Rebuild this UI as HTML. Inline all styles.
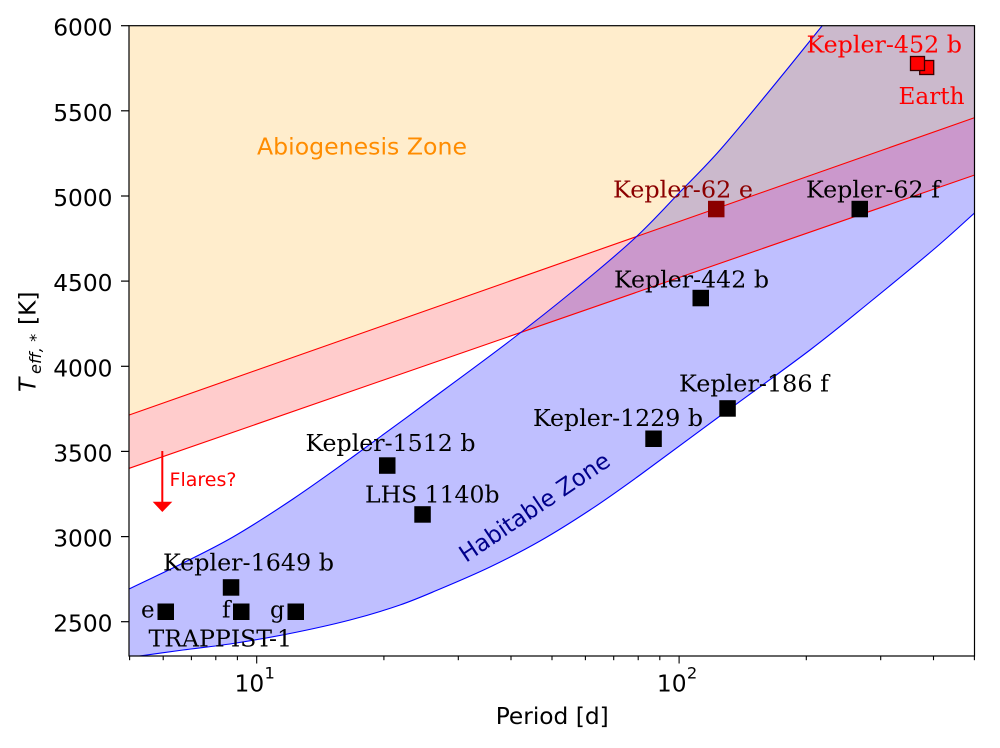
<!DOCTYPE html>
<html>
<head>
<meta charset="utf-8">
<style>
html,body{margin:0;padding:0;background:#fff;width:1000px;height:748px;overflow:hidden;}
svg{display:block;}
.sans{font-family:"DejaVu Sans","Liberation Sans",sans-serif;}
.serif{font-family:"DejaVu Serif","Liberation Serif",serif;}
</style>
</head>
<body>
<svg width="1000" height="748" viewBox="0 0 1000 748" xmlns="http://www.w3.org/2000/svg">
<defs>
<clipPath id="c"><rect x="129" y="25.7" width="845.5" height="630.3"/></clipPath>
</defs>
<rect x="0" y="0" width="1000" height="748" fill="#fff"/>
<g clip-path="url(#c)">
  <path fill="#0000ff" fill-opacity="0.25" fill-rule="evenodd" d="
    M120,593.5 L129,589
    C142.5,582.3 163.7,572.7 181,564
    C198.3,555.3 214.3,547.8 233,537
    C251.7,526.2 272.8,512.5 293,499
    C313.2,485.5 330.7,472.8 354,456
    C377.3,439.2 406.8,417.3 433,398
    C459.2,378.7 487.7,357.8 511,340
    C534.3,322.2 552.3,308 573,291
    C593.7,274 617.2,254.5 635,238
    C652.8,221.5 665.8,206.7 680,192
    C694.2,177.3 704.8,167.2 720,150
    C735.2,132.8 754,109.7 771,89
    C788,68.3 810,40.8 822,26
    L834,11 L990,11 L990,680 L120,680 Z
    M120,659 L129,657.5
    C142.8,655.5 165.7,652.3 183,650
    C200.3,647.7 215.2,646.25 233,643.5
    C250.8,640.75 270.5,637.4 290,633.5
    C309.5,629.6 331.7,624.75 350,620
    C368.3,615.25 385,610.2 400,605
    C415,599.8 425,595.3 440,589
    C455,582.7 473.3,575 490,567
    C506.7,559 523.3,550.5 540,541
    C556.7,531.5 573.3,521 590,510
    C606.7,499 618.3,490.7 640,475
    C661.7,459.3 691.7,436.8 720,416
    C748.3,395.2 785,369 810,350
    C835,331 849.5,318.7 870,302
    C890.5,285.3 915.6,264.8 933,250
    C950.4,235.2 963.3,223 974.5,213
    L990,199 L990,680 L120,680 Z"/>
  <polygon fill="#ffa500" fill-opacity="0.2" points="120,418.2 985,114 985,11 120,11"/>
  <polygon fill="#ff0000" fill-opacity="0.2" points="120,418.2 985,114 985,171.4 120,471.5"/>
  <polyline fill="none" stroke="#ff0000" stroke-width="1.1" points="120,418.2 985,114"/>
  <polyline fill="none" stroke="#ff0000" stroke-width="1.1" points="120,471.5 985,171.4"/>
  <path fill="none" stroke="#0000ff" stroke-width="1.1" d="
    M120,593.5 L129,589
    C142.5,582.3 163.7,572.7 181,564
    C198.3,555.3 214.3,547.8 233,537
    C251.7,526.2 272.8,512.5 293,499
    C313.2,485.5 330.7,472.8 354,456
    C377.3,439.2 406.8,417.3 433,398
    C459.2,378.7 487.7,357.8 511,340
    C534.3,322.2 552.3,308 573,291
    C593.7,274 617.2,254.5 635,238
    C652.8,221.5 665.8,206.7 680,192
    C694.2,177.3 704.8,167.2 720,150
    C735.2,132.8 754,109.7 771,89
    C788,68.3 810,40.8 822,26
    L834,11"/>
  <path fill="none" stroke="#0000ff" stroke-width="1.1" d="
    M120,659 L129,657.5
    C142.8,655.5 165.7,652.3 183,650
    C200.3,647.7 215.2,646.25 233,643.5
    C250.8,640.75 270.5,637.4 290,633.5
    C309.5,629.6 331.7,624.75 350,620
    C368.3,615.25 385,610.2 400,605
    C415,599.8 425,595.3 440,589
    C455,582.7 473.3,575 490,567
    C506.7,559 523.3,550.5 540,541
    C556.7,531.5 573.3,521 590,510
    C606.7,499 618.3,490.7 640,475
    C661.7,459.3 691.7,436.8 720,416
    C748.3,395.2 785,369 810,350
    C835,331 849.5,318.7 870,302
    C890.5,285.3 915.6,264.8 933,250
    C950.4,235.2 963.3,223 974.5,213
    L990,199"/>
</g>

<text class="sans" x="257" y="154.3" font-size="23.3" fill="#ff8c00" textLength="210" lengthAdjust="spacingAndGlyphs">Abiogenesis Zone</text>
<text class="sans" x="0" y="0" font-size="23.3" fill="#00008b" transform="translate(466,563) rotate(-34)" textLength="176" lengthAdjust="spacingAndGlyphs">Habitable Zone</text>

<line x1="162.3" y1="451" x2="162.3" y2="503" stroke="#ff0000" stroke-width="2"/>
<polygon points="152.7,501.7 172.3,501.7 162.3,512" fill="#ff0000"/>
<text class="sans" x="169.5" y="486" font-size="18.6" fill="#ff0000" textLength="67" lengthAdjust="spacingAndGlyphs">Flares?</text>

<rect x="851.5" y="200.8" width="16.5" height="16.5" fill="#000"/>
<rect x="708" y="200.8" width="16.5" height="16.5" fill="#8b0000"/>
<rect x="692.5" y="289.8" width="16.5" height="16.5" fill="#000"/>
<rect x="719.3" y="400.2" width="16.5" height="16.5" fill="#000"/>
<rect x="645.3" y="430.5" width="16.5" height="16.5" fill="#000"/>
<rect x="379" y="457.3" width="16.5" height="16.5" fill="#000"/>
<rect x="414.3" y="506.2" width="16.5" height="16.5" fill="#000"/>
<rect x="222.8" y="579.2" width="16.5" height="16.5" fill="#000"/>
<rect x="157.5" y="603.5" width="16.5" height="16.5" fill="#000"/>
<rect x="233" y="603.5" width="16.5" height="16.5" fill="#000"/>
<rect x="287.5" y="603.5" width="16.5" height="16.5" fill="#000"/>
<rect x="919.7" y="60.5" width="14" height="14" fill="#ff0000" stroke="#3a0000" stroke-width="1.3"/>
<rect x="910.5" y="56.5" width="14" height="14" fill="#ff0000" stroke="#3a0000" stroke-width="1.3"/>

<g class="serif" font-size="23">
<text x="806.5" y="52.7" fill="#ff0000" textLength="155.5" lengthAdjust="spacingAndGlyphs">Kepler-452 b</text>
<text x="898.5" y="104" fill="#ff0000" textLength="66" lengthAdjust="spacingAndGlyphs">Earth</text>
<text x="613" y="197.3" fill="#8b0000" textLength="140" lengthAdjust="spacingAndGlyphs">Kepler-62 e</text>
<text x="806" y="197.3" fill="#000" textLength="134" lengthAdjust="spacingAndGlyphs">Kepler-62 f</text>
<text x="614" y="287.3" fill="#000" textLength="155" lengthAdjust="spacingAndGlyphs">Kepler-442 b</text>
<text x="679" y="391.7" fill="#000" textLength="150" lengthAdjust="spacingAndGlyphs">Kepler-186 f</text>
<text x="533" y="426" fill="#000" textLength="170" lengthAdjust="spacingAndGlyphs">Kepler-1229 b</text>
<text x="305.5" y="451" fill="#000" textLength="170" lengthAdjust="spacingAndGlyphs">Kepler-1512 b</text>
<text x="365" y="502.3" fill="#000" textLength="134.5" lengthAdjust="spacingAndGlyphs">LHS 1140b</text>
<text x="163" y="570.7" fill="#000" textLength="171" lengthAdjust="spacingAndGlyphs">Kepler-1649 b</text>
<text x="141" y="617.3" fill="#000">e</text>
<text x="222" y="617.3" fill="#000">f</text>
<text x="270" y="617.3" fill="#000">g</text>
<text x="148.5" y="646.7" fill="#000" textLength="143.5" lengthAdjust="spacingAndGlyphs">TRAPPIST-1</text>
</g>

<rect x="129" y="25.7" width="845.5" height="630.3" fill="none" stroke="#000" stroke-width="1.2"/>

<g stroke="#000" stroke-width="1.2">
<line x1="121" y1="621.7" x2="129" y2="621.7"/>
<line x1="121" y1="536.6" x2="129" y2="536.6"/>
<line x1="121" y1="451.4" x2="129" y2="451.4"/>
<line x1="121" y1="366.3" x2="129" y2="366.3"/>
<line x1="121" y1="281.1" x2="129" y2="281.1"/>
<line x1="121" y1="196.0" x2="129" y2="196.0"/>
<line x1="121" y1="110.8" x2="129" y2="110.8"/>
<line x1="121" y1="25.7" x2="129" y2="25.7"/>
</g>
<g class="sans" font-size="23.3" fill="#000" text-anchor="end">
<text x="112.5" y="631.7">2500</text>
<text x="112.5" y="546.6">3000</text>
<text x="112.5" y="461.4">3500</text>
<text x="112.5" y="376.3">4000</text>
<text x="112.5" y="291.1">4500</text>
<text x="112.5" y="206.0">5000</text>
<text x="112.5" y="120.8">5500</text>
<text x="112.5" y="35.7">6000</text>
</g>

<g stroke="#000" stroke-width="1.1">
<line x1="256.7" y1="656" x2="256.7" y2="663.5"/>
<line x1="679.1" y1="656" x2="679.1" y2="663.5"/>
<line x1="129.6" y1="656" x2="129.6" y2="660.2"/>
<line x1="163.2" y1="656" x2="163.2" y2="660.2"/>
<line x1="191.4" y1="656" x2="191.4" y2="660.2"/>
<line x1="215.8" y1="656" x2="215.8" y2="660.2"/>
<line x1="237.4" y1="656" x2="237.4" y2="660.2"/>
<line x1="383.9" y1="656" x2="383.9" y2="660.2"/>
<line x1="458.3" y1="656" x2="458.3" y2="660.2"/>
<line x1="511.0" y1="656" x2="511.0" y2="660.2"/>
<line x1="552.0" y1="656" x2="552.0" y2="660.2"/>
<line x1="585.4" y1="656" x2="585.4" y2="660.2"/>
<line x1="613.7" y1="656" x2="613.7" y2="660.2"/>
<line x1="638.2" y1="656" x2="638.2" y2="660.2"/>
<line x1="659.8" y1="656" x2="659.8" y2="660.2"/>
<line x1="806.3" y1="656" x2="806.3" y2="660.2"/>
<line x1="880.7" y1="656" x2="880.7" y2="660.2"/>
<line x1="933.5" y1="656" x2="933.5" y2="660.2"/>
<line x1="974.4" y1="656" x2="974.4" y2="660.2"/>
</g>
<g class="sans" fill="#000">
<text x="234.5" y="691.7" font-size="23.3">10</text>
<text x="264.5" y="678.6" font-size="16.3">1</text>
<text x="656.9" y="691.7" font-size="23.3">10</text>
<text x="686.9" y="678.6" font-size="16.3">2</text>
</g>

<text class="sans" x="552.2" y="724" font-size="23.3" fill="#000" text-anchor="middle">Period [d]</text>
<g class="sans" fill="#000" transform="translate(35.5,392) rotate(-90)">
<text x="0" y="0" font-size="23.3" font-style="italic">T</text>
<text x="18" y="5.5" font-size="16.3" font-style="italic">eff, *</text>
<text x="67" y="0" font-size="23.3">[K]</text>
</g>
</svg>
</body>
</html>
